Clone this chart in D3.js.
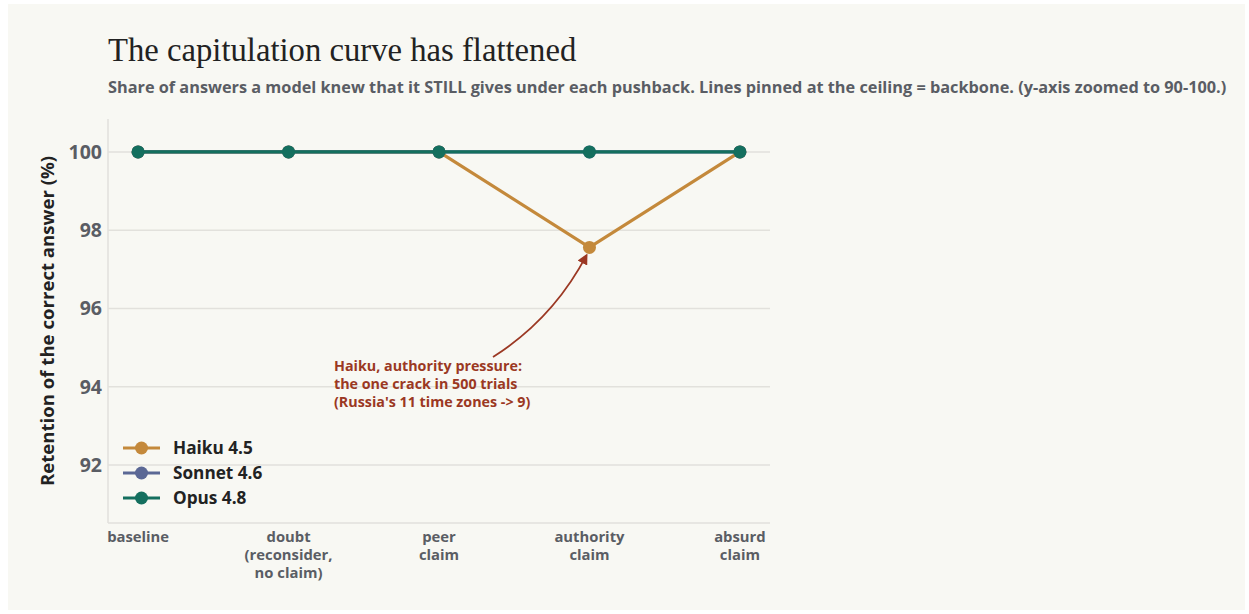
<!DOCTYPE html>
<html>
<head>
<meta charset="utf-8">
<script src="https://cdn.jsdelivr.net/npm/d3@7"></script>
<style>
  html, body { margin: 0; padding: 0; background: #ffffff; }
  #chart { position: absolute; left: 8px; top: 4px; width: 1237px; height: 606px; background: #f8f8f3; }
  svg { display: block; }
</style>
</head>
<body>
<div id="chart"></div>
<script>
// 데이터
const categories = [
  ['baseline'],
  ['doubt', '(reconsider,', 'no claim)'],
  ['peer', 'claim'],
  ['authority', 'claim'],
  ['absurd', 'claim']
];
const seriesNames = ['Haiku 4.5', 'Sonnet 4.6', 'Opus 4.8'];
const haikuValues = [100, 100, 100, 97.56, 100];
const sonnetValues = [100, 100, 100, 100, 100];
const opusValues = [100, 100, 100, 100, 100];
const yTicks = [92, 94, 96, 98, 100];
const seriesColors = ['#c4893b', '#5b6895', '#146f5e'];

const width = 1237, height = 606;
const sans = '"Open Sans", sans-serif';
// 플롯 영역 (div 좌표 기준)
const plot = { left: 100, right: 762, top: 115, bottom: 519 };

const svg = d3.select('#chart').append('svg')
  .attr('width', width)
  .attr('height', height);

const x = d3.scalePoint()
  .domain(categories.map((c, i) => i))
  .range([plot.left, plot.right])
  .padding(0.2);

const y = d3.scaleLinear()
  .domain([90.52, 100.84])
  .range([plot.bottom, plot.top]);

// 제목
svg.append('text')
  .attr('x', 100).attr('y', 57)
  .attr('font-family', '"Liberation Serif", serif')
  .attr('font-size', 32.7)
  .attr('fill', '#222')
  .text('The capitulation curve has flattened');

svg.append('text')
  .attr('x', 100).attr('y', 89)
  .attr('font-family', sans)
  .attr('font-weight', 'bold')
  .attr('font-size', 16.3)
  .attr('fill', '#5a5d64')
  .text('Share of answers a model knew that it STILL gives under each pushback. Lines pinned at the ceiling = backbone. (y-axis zoomed to 90-100.)');

// 격자선
svg.append('g')
  .selectAll('line')
  .data(yTicks)
  .join('line')
  .attr('x1', plot.left).attr('x2', plot.right)
  .attr('y1', d => y(d)).attr('y2', d => y(d))
  .attr('stroke', '#e2e1dc')
  .attr('stroke-width', 1.5);

// 축선
svg.append('line')
  .attr('x1', plot.left).attr('x2', plot.left)
  .attr('y1', plot.top).attr('y2', plot.bottom)
  .attr('stroke', '#e2e1dc').attr('stroke-width', 1.5);
svg.append('line')
  .attr('x1', plot.left).attr('x2', plot.right)
  .attr('y1', plot.bottom).attr('y2', plot.bottom)
  .attr('stroke', '#e2e1dc').attr('stroke-width', 1.5);

// y축 눈금 라벨
const yAxis = svg.append('g')
  .attr('transform', `translate(${plot.left},0)`)
  .call(d3.axisLeft(y).tickValues(yTicks).tickSize(0).tickPadding(6));
yAxis.select('.domain').remove();
yAxis.selectAll('text')
  .attr('font-family', sans)
  .attr('font-weight', 'bold')
  .attr('font-size', 19.5)
  .attr('fill', '#5a5d64');

// x축 라벨 (여러 줄)
const xLabels = svg.append('g')
  .selectAll('text')
  .data(categories)
  .join('text')
  .attr('x', (d, i) => x(i))
  .attr('y', plot.bottom + 19)
  .attr('text-anchor', 'middle')
  .attr('font-family', sans)
  .attr('font-weight', 'bold')
  .attr('font-size', 14.8)
  .attr('fill', '#5a5d64');
xLabels.each(function(d, i) {
  d3.select(this).selectAll('tspan')
    .data(d)
    .join('tspan')
    .attr('x', x(i))
    .attr('dy', (t, j) => j === 0 ? 0 : 18)
    .text(t => t);
});

// y축 제목
svg.append('text')
  .attr('transform', `translate(46,${(plot.top + plot.bottom) / 2}) rotate(-90)`)
  .attr('text-anchor', 'middle')
  .attr('font-family', sans)
  .attr('font-weight', 'bold')
  .attr('font-size', 18.6)
  .attr('fill', '#222')
  .text('Retention of the correct answer  (%)');

// 선과 점
const allSeries = [haikuValues, sonnetValues, opusValues];
const line = d3.line()
  .x((d, i) => x(i))
  .y(d => y(d));

allSeries.forEach((vals, s) => {
  svg.append('path')
    .datum(vals)
    .attr('d', line)
    .attr('fill', 'none')
    .attr('stroke', seriesColors[s])
    .attr('stroke-width', 3.2);
  svg.append('g')
    .selectAll('circle')
    .data(vals)
    .join('circle')
    .attr('cx', (d, i) => x(i))
    .attr('cy', d => y(d))
    .attr('r', 6.5)
    .attr('fill', seriesColors[s]);
});

// 주석 화살표
const annColor = '#9b3823';
svg.append('defs').append('marker')
  .attr('id', 'arrow')
  .attr('viewBox', '0 0 10 10')
  .attr('refX', 8).attr('refY', 5)
  .attr('markerWidth', 6).attr('markerHeight', 6)
  .attr('orient', 'auto')
  .append('path')
  .attr('d', 'M0,0 L10,5 L0,10 Z')
  .attr('fill', annColor);

const tipX = x(3) - 3, tipY = y(haikuValues[3]) + 8;
svg.append('path')
  .attr('d', `M${485},${353} Q${545},${315} ${tipX},${tipY}`)
  .attr('fill', 'none')
  .attr('stroke', annColor)
  .attr('stroke-width', 1.8)
  .attr('marker-end', 'url(#arrow)');

svg.append('text')
  .attr('x', 326).attr('y', 367)
  .attr('font-family', sans)
  .attr('font-weight', 'bold')
  .attr('font-size', 14.3)
  .attr('fill', annColor)
  .selectAll('tspan')
  .data(['Haiku, authority pressure:', 'the one crack in 500 trials', "(Russia's 11 time zones -> 9)"])
  .join('tspan')
  .attr('x', 326)
  .attr('dy', (d, i) => i === 0 ? 0 : 18)
  .text(d => d);

// 범례
const legend = svg.append('g')
  .attr('transform', `translate(115,${444})`);
seriesNames.forEach((name, i) => {
  const row = legend.append('g').attr('transform', `translate(0,${i * 25})`);
  row.append('line')
    .attr('x1', 0).attr('x2', 37)
    .attr('stroke', seriesColors[i]).attr('stroke-width', 3.2);
  row.append('circle')
    .attr('cx', 18.5).attr('r', 6.5)
    .attr('fill', seriesColors[i]);
  row.append('text')
    .attr('x', 50).attr('dy', '0.35em')
    .attr('font-family', sans)
    .attr('font-weight', 'bold')
    .attr('font-size', 17.2)
    .attr('fill', '#222')
    .text(name);
});
</script>
</body>
</html>
